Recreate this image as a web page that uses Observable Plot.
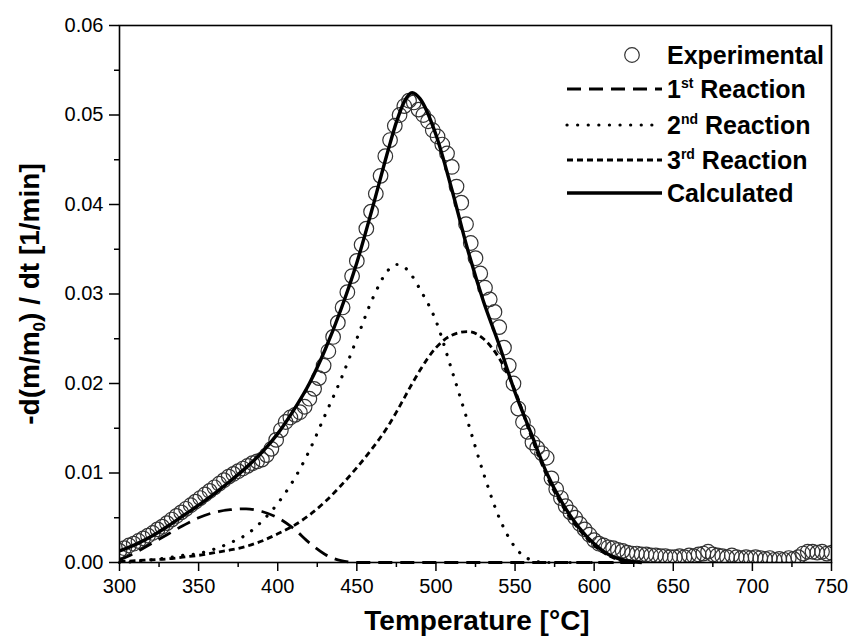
<!DOCTYPE html>
<html><head><meta charset="utf-8">
<script src="https://cdn.jsdelivr.net/npm/d3@7"></script>
<script src="https://cdn.jsdelivr.net/npm/@observablehq/plot@0.6"></script>
<style>body{margin:0;background:#fff} svg{display:block}</style>
</head><body><div id="chart"></div>
<script>
// Experimental points
const expTemp = [300,303,306,309,312,315,318,321,324,327,330,333,336,339,342,345,348,351,354,357,360,363,366,369,372,375,378,381,384,387,390,393,396,399,402,405,408,411,414,417,420,423,426,429,432,435,438,441,444,447,450,453,456,459,462,465,468,471,474,477,480,483,486,489,492,495,498,501,504,507,510,513,516,519,522,525,528,531,534,537,540,543,546,549,552,555,558,561,564,567,570,573,576,579,582,585,588,591,594,597,600,603,606,609,612,615,618,621,624,627,630,633,636,639,642,645,648,651,654,657,660,663,666,669,672,675,678,681,684,687,690,693,696,699,702,705,708,711,714,717,720,723,726,729,732,735,738,741,744,747,750];
const expRate = [0.0013,0.0016,0.0019,0.0021,0.0024,0.0027,0.0030,0.0033,0.0037,0.0040,0.0044,0.0048,0.0052,0.0056,0.0060,0.0064,0.0068,0.0072,0.0076,0.0080,0.0084,0.0088,0.0092,0.0096,0.0099,0.0102,0.0105,0.0108,0.0111,0.0113,0.0115,0.0120,0.0127,0.0137,0.0148,0.0157,0.0162,0.0165,0.0168,0.0174,0.0183,0.0194,0.0206,0.0220,0.0236,0.0252,0.0268,0.0285,0.0302,0.0320,0.0337,0.0355,0.0373,0.0392,0.0412,0.0432,0.0454,0.0472,0.0488,0.0500,0.0510,0.0516,0.0514,0.0506,0.0500,0.0493,0.0483,0.0476,0.0467,0.0457,0.0442,0.0420,0.0402,0.0378,0.0357,0.0340,0.0323,0.0307,0.0294,0.0280,0.0263,0.0240,0.0220,0.0200,0.0172,0.0157,0.0146,0.0134,0.0128,0.0122,0.0117,0.0094,0.0082,0.0072,0.0063,0.0056,0.0050,0.0043,0.0037,0.0031,0.0025,0.0021,0.0019,0.0017,0.0016,0.0014,0.0013,0.0011,0.0010,0.0010,0.0009,0.0009,0.0008,0.0008,0.0007,0.0007,0.0006,0.0006,0.0007,0.0006,0.0008,0.0007,0.0009,0.0010,0.0012,0.0009,0.0008,0.0007,0.0006,0.0008,0.0006,0.0005,0.0006,0.0005,0.0006,0.0005,0.0004,0.0005,0.0003,0.0004,0.0003,0.0005,0.0004,0.0006,0.0010,0.0012,0.0012,0.0011,0.0012,0.0010,0.0011];

// Model curves on a common temperature grid
const curveTemp = [300,310,320,330,340,350,360,370,380,390,400,410,420,430,440,450,460,470,475,480,485,490,500,510,520,530,540,550,560,570,580,590,600,610,620,630];
const reaction1 = [0.0003,0.0011,0.0021,0.0031,0.0041,0.0050,0.0056,0.0059,0.0060,0.0057,0.0050,0.0038,0.0022,0.0009,0.0002,0,0,0,0,0,0,0,0,0,0,0,0,0,0,0,0,0,0,0,0,0];
const reaction2 = [0,0.0001,0.0003,0.0005,0.0008,0.0010,0.0015,0.0022,0.0031,0.0046,0.0066,0.0092,0.0125,0.0165,0.0205,0.0250,0.0295,0.0327,0.0333,0.0330,0.0320,0.0305,0.0270,0.0215,0.0158,0.0100,0.0050,0.0017,0.0003,0,0,0,0,0,0,0];
const reaction3 = [0.0001,0.0002,0.0003,0.0004,0.0006,0.0008,0.0011,0.0014,0.0018,0.0024,0.0032,0.0041,0.0053,0.0068,0.0086,0.0106,0.0128,0.0153,0.0168,0.0184,0.0200,0.0215,0.0240,0.0254,0.0258,0.0250,0.0228,0.0192,0.0142,0.0097,0.0063,0.0038,0.0019,0.0007,0.0001,0];
const calculated = [0.0013,0.0020,0.0029,0.0040,0.0052,0.0064,0.0077,0.0091,0.0106,0.0123,0.0144,0.0170,0.0200,0.0238,0.0283,0.0335,0.0397,0.0462,0.0492,0.0515,0.0525,0.0518,0.0478,0.0417,0.0350,0.0292,0.0243,0.0190,0.0145,0.0100,0.0066,0.0040,0.0021,0.0008,0.0002,0];

// Ticks
const xMajor = [300,350,400,450,500,550,600,650,700,750];
const xMinor = [325,375,425,475,525,575,625,675,725];
const yMajor = [0,0.01,0.02,0.03,0.04,0.05,0.06];
const yMinor = [0.005,0.015,0.025,0.035,0.045,0.055];

const legendLabels = ["Experimental", "1st Reaction", "2nd Reaction", "3rd Reaction", "Calculated"];

const expData = expTemp.map((t, i) => ({t, v: expRate[i]}));
const curveData = curveTemp.map((t, i) => ({t, r1: reaction1[i], r2: reaction2[i], r3: reaction3[i], c: calculated[i]}));

const styles = {
  r1: {strokeDasharray: "14,8", strokeWidth: 2.8, strokeLinecap: "butt"},
  r2: {strokeDasharray: "0.1,10.5", strokeWidth: 3.2, strokeLinecap: "round"},
  r3: {strokeDasharray: "6,4", strokeWidth: 2.8, strokeLinecap: "butt"},
  c:  {strokeDasharray: null, strokeWidth: 3.4, strokeLinecap: "butt"}
};

const font = "Arial, 'Liberation Sans', sans-serif";

const svg = Plot.plot({
  width: 849, height: 637,
  marginLeft: 119, marginRight: 18, marginTop: 25, marginBottom: 75,
  x: {domain: [300, 750]},
  y: {domain: [0, 0.06]},
  style: {fontFamily: font, fontSize: "20px", color: "#000", background: "#fff"},
  marks: [
    Plot.axisX({ticks: xMinor, tickSize: 5, tickFormat: () => "", label: null, strokeWidth: 1.5}),
    Plot.axisY({ticks: yMinor, tickSize: 5, tickFormat: () => "", label: null, strokeWidth: 1.5}),
    Plot.axisX({ticks: xMajor, tickSize: 9, tickPadding: 7, tickFormat: d => String(d), label: null, fontSize: 20, strokeWidth: 1.5}),
    Plot.axisY({ticks: yMajor, tickSize: 10, tickPadding: 6, tickFormat: d3.format(".2f"), label: null, fontSize: 20, strokeWidth: 1.5}),
    Plot.dot(expData, {x: "t", y: "v", r: 7.3, stroke: "#333", strokeWidth: 1.2, fill: "none", clip: true}),
    Plot.line(curveData, {x: "t", y: "r1", stroke: "#000", curve: "monotone-x", ...styles.r1}),
    Plot.line(curveData, {x: "t", y: "r2", stroke: "#000", curve: "monotone-x", ...styles.r2}),
    Plot.line(curveData, {x: "t", y: "r3", stroke: "#000", curve: "monotone-x", ...styles.r3}),
    Plot.line(curveData, {x: "t", y: "c", stroke: "#000", curve: "monotone-x", ...styles.c}),
    Plot.frame({stroke: "#000", strokeWidth: 1.6})
  ]
});

const s = d3.select(svg);

// Axis titles
s.append("text")
  .attr("x", 477).attr("y", 630)
  .attr("text-anchor", "middle")
  .attr("font-family", font).attr("font-weight", "bold").attr("font-size", 28)
  .attr("fill", "#000")
  .text("Temperature [°C]");

const yt = s.append("text")
  .attr("transform", "translate(39,294) rotate(-90)")
  .attr("text-anchor", "middle")
  .attr("font-family", font).attr("font-weight", "bold").attr("font-size", 28)
  .attr("fill", "#000");
yt.append("tspan").text("-d(m/m");
yt.append("tspan").attr("font-size", 17).attr("dy", 6).text("0");
yt.append("tspan").attr("dy", -6).text(") / dt [1/min]");

// Legend
const lg = s.append("g").attr("font-family", font).attr("font-weight", "bold").attr("font-size", 25)
  .attr("fill", "#000").attr("text-anchor", "start");
const rowY = [55, 89, 125, 160, 193];
const textX = 667, lineX0 = 567, lineX1 = 662;
lg.append("circle").attr("cx", 632).attr("cy", rowY[0]).attr("r", 7.3)
  .attr("fill", "none").attr("stroke", "#333").attr("stroke-width", 1.2);
lg.append("text").attr("x", textX).attr("y", rowY[0] + 9).text(legendLabels[0]);
const keys = ["r1", "r2", "r3"];
const sups = ["st", "nd", "rd"];
keys.forEach((k, i) => {
  const y = rowY[i + 1];
  const st = styles[k];
  lg.append("line").attr("x1", lineX0).attr("x2", lineX1).attr("y1", y).attr("y2", y)
    .attr("stroke", "#000").attr("stroke-width", st.strokeWidth)
    .attr("stroke-dasharray", st.strokeDasharray).attr("stroke-linecap", st.strokeLinecap);
  const t = lg.append("text").attr("x", textX).attr("y", y + 9);
  const lab = legendLabels[i + 1];
  t.append("tspan").text(lab.slice(0, 1));
  t.append("tspan").attr("font-size", 14).attr("dy", -10).text(sups[i]);
  t.append("tspan").attr("dy", 10).text(lab.slice(3));
});
lg.append("line").attr("x1", lineX0).attr("x2", lineX1).attr("y1", rowY[4]).attr("y2", rowY[4])
  .attr("stroke", "#000").attr("stroke-width", styles.c.strokeWidth);
lg.append("text").attr("x", textX).attr("y", rowY[4] + 9).text(legendLabels[4]);

document.getElementById("chart").appendChild(svg);
</script>
</body></html>
